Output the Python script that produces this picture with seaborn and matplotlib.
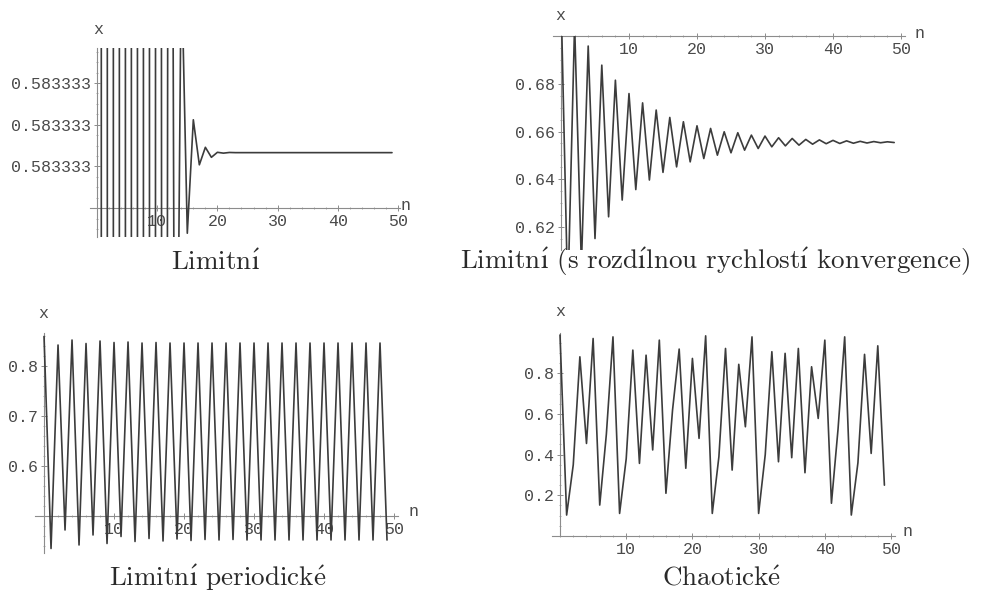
import matplotlib
matplotlib.use("Agg")
import matplotlib.pyplot as plt
import seaborn as sns
import numpy as np
from matplotlib.ticker import FixedLocator, FuncFormatter, MultipleLocator

# ---------------- data ----------------
n = list(range(50))

# Limitní (r ~ 2.4, fixed point 7/12); early values are far outside the tiny plot range
limit_x = [0.6283, 0.5653, 0.59058, 0.580458, 0.584483, 0.582883, 0.583518, 0.5832608,
           0.5833628, 0.5833216, 0.5833380, 0.58333146, 0.58333408, 0.58333303, 0.58333345,
           0.583333285, 0.583333353, 0.583333326, 0.5833333365, 0.5833333305, 0.5833333335,
           0.583333333, 0.5833333334, 0.5833333333, 0.5833333333, 0.5833333333, 0.5833333333,
           0.5833333333, 0.5833333333, 0.5833333333, 0.5833333333, 0.5833333333, 0.5833333333,
           0.5833333333, 0.5833333333, 0.5833333333, 0.5833333333, 0.5833333333, 0.5833333333,
           0.5833333333, 0.5833333333, 0.5833333333, 0.5833333333, 0.5833333333, 0.5833333333,
           0.5833333333, 0.5833333333, 0.5833333333, 0.5833333333, 0.5833333333]
limit_yticks = [0.583333325, 0.58333335, 0.583333375]

# Limitní (s rozdílnou rychlostí konvergence)
slow_x = [0.717, 0.590, 0.705, 0.604, 0.6958, 0.6152, 0.6878, 0.6243, 0.6815, 0.6313,
          0.6759, 0.6357, 0.6720, 0.6397, 0.6690, 0.6429, 0.6659, 0.6452, 0.6641, 0.6473,
          0.6624, 0.6487, 0.6613, 0.6501, 0.6599, 0.6511, 0.6595, 0.6522, 0.6585, 0.6529,
          0.6581, 0.6536, 0.6574, 0.6540, 0.6571, 0.6543, 0.6567, 0.6547, 0.6565, 0.6549,
          0.6563, 0.6550, 0.6561, 0.6551, 0.6559, 0.6552, 0.6558, 0.6553, 0.6557, 0.6554]
slow_yticks = [0.62, 0.64, 0.66, 0.68]

# Limitní periodické
period_x = [0.859, 0.435, 0.842, 0.472, 0.852, 0.442, 0.845, 0.462, 0.850, 0.445,
            0.847, 0.459, 0.848, 0.449, 0.846, 0.455, 0.847, 0.450, 0.846, 0.454,
            0.846, 0.451, 0.846, 0.453, 0.846, 0.452, 0.846, 0.453, 0.846, 0.452,
            0.846, 0.452, 0.846, 0.452, 0.846, 0.452, 0.846, 0.452, 0.846, 0.452,
            0.846, 0.452, 0.846, 0.452, 0.846, 0.452, 0.846, 0.452, 0.846, 0.452]
period_yticks = [0.6, 0.7, 0.8]

# Chaotické
chaos_x = [0.988, 0.103, 0.35, 0.881, 0.455, 0.971, 0.152, 0.50, 0.979, 0.111,
           0.38, 0.914, 0.357, 0.889, 0.423, 0.963, 0.21, 0.62, 0.919, 0.333,
           0.873, 0.48, 0.984, 0.111, 0.39, 0.922, 0.324, 0.844, 0.537, 0.979,
           0.111, 0.40, 0.906, 0.365, 0.898, 0.385, 0.922, 0.311, 0.832, 0.578,
           0.963, 0.161, 0.527, 0.979, 0.103, 0.36, 0.893, 0.406, 0.935, 0.25]
chaos_yticks = [0.2, 0.4, 0.6, 0.8]

xticks = [10, 20, 30, 40, 50]
# titles: "Limitní", "Limitní (s rozdílnou rychlostí konvergence)", "Limitní periodické", "Chaotické"
# written with TeX-style accents so they render in Computer Modern like the original
I_ACUTE = r"$\mathrm{\acute{ı}}$"
E_ACUTE = r"$\mathrm{\acute{e}}$"
titles = ["Limitn" + I_ACUTE,
          "Limitn" + I_ACUTE + " (s rozd" + I_ACUTE + "lnou rychlost" + I_ACUTE + " konvergence)",
          "Limitn" + I_ACUTE + " periodick" + E_ACUTE,
          "Chaotick" + E_ACUTE]

# ---------------- style ----------------
sns.set_style("white")
plt.rcParams['font.family'] = ['Liberation Mono', 'DejaVu Sans Mono']
plt.rcParams['mathtext.fontset'] = 'cm'
plt.rcParams['axes.unicode_minus'] = False

W, H = 991, 596
fig = plt.figure(figsize=(W / 100, H / 100), dpi=100)

AXC = '#8c8c8c'
LINEC = '#3c3c3c'
TXT = '#4a4a4a'
TFS = 12


def make_panel(box, xlim, ylim, xaxis_y, values, yticks, fmt, yminor, xlabel_px, ylabel_px):
    x0, x1, y0, y1 = box
    ax = fig.add_axes([x0 / W, 1 - y1 / H, (x1 - x0) / W, (y1 - y0) / H])
    sns.lineplot(x=n, y=values, ax=ax, color=LINEC, linewidth=1.2, zorder=3)
    ax.set_xlim(*xlim)
    ax.set_ylim(*ylim)
    ax.set_xlabel('')
    ax.set_ylabel('')
    ax.set_facecolor('none')
    for s in ['top', 'right']:
        ax.spines[s].set_visible(False)
    ax.spines['left'].set_position(('data', 0))
    ax.spines['bottom'].set_position(('data', xaxis_y))
    for s in ['left', 'bottom']:
        ax.spines[s].set_color(AXC)
        ax.spines[s].set_linewidth(0.8)
    ax.xaxis.set_major_locator(FixedLocator(xticks))
    ax.xaxis.set_major_formatter(FuncFormatter(lambda v, p: f"{int(v)}"))
    ax.xaxis.set_minor_locator(MultipleLocator(2))
    ax.yaxis.set_major_locator(FixedLocator(yticks))
    ax.yaxis.set_major_formatter(FuncFormatter(fmt))
    ax.yaxis.set_minor_locator(MultipleLocator(yminor))
    ax.tick_params(which='major', direction='inout', length=4, width=0.7, color=AXC,
                   labelsize=TFS, labelcolor=TXT, pad=2)
    ax.tick_params(which='minor', direction='inout', length=2, width=0.5, color=AXC)
    ax.tick_params(axis='x', bottom=True, which='both')
    ax.tick_params(axis='y', left=True, which='both')
    ax.grid(False)
    fig.text(xlabel_px[0] / W, 1 - xlabel_px[1] / H, 'n', ha='center', va='center',
             fontsize=TFS, color=TXT)
    fig.text(ylabel_px[0] / W, 1 - ylabel_px[1] / H, 'x', ha='center', va='center',
             fontsize=TFS, color=TXT)
    return ax


make_panel((90, 400, 48, 237), (-1.163, 50.33), (0.58333328275, 0.583333396), 0.5833333,
           limit_x, limit_yticks, lambda v, p: f"{v:.6f}", 0.00000000625,
           (406, 205), (98, 30))
make_panel((553, 905, 36, 250), (-1.176, 50.59), (0.6104, 0.7000), 0.70,
           slow_x, slow_yticks, lambda v, p: f"{v:.2f}", 0.005,
           (920, 34), (560, 16))
make_panel((35, 398, 333, 553), (-1.29, 50.57), (0.426, 0.866), 0.5,
           period_x, period_yticks, lambda v, p: f"{v:.1f}", 0.02,
           (414, 511), (43, 313))
make_panel((552, 895, 333, 536), (-1.21, 50.6), (0.0, 0.998), 0.0,
           chaos_x, chaos_yticks, lambda v, p: f"{v:.1f}", 0.05,
           (908, 532), (560, 312))

title_pos = [(215, 262), (715, 262), (218, 578), (722, 578)]
for t, (tx, ty) in zip(titles, title_pos):
    fig.text(tx / W, 1 - ty / H, t, ha='center', va='center', fontsize=19.5,
             family=['cmr10', 'DejaVu Serif'], color='#2a2a2a')

fig.savefig('out.png', dpi=100, facecolor='white')
